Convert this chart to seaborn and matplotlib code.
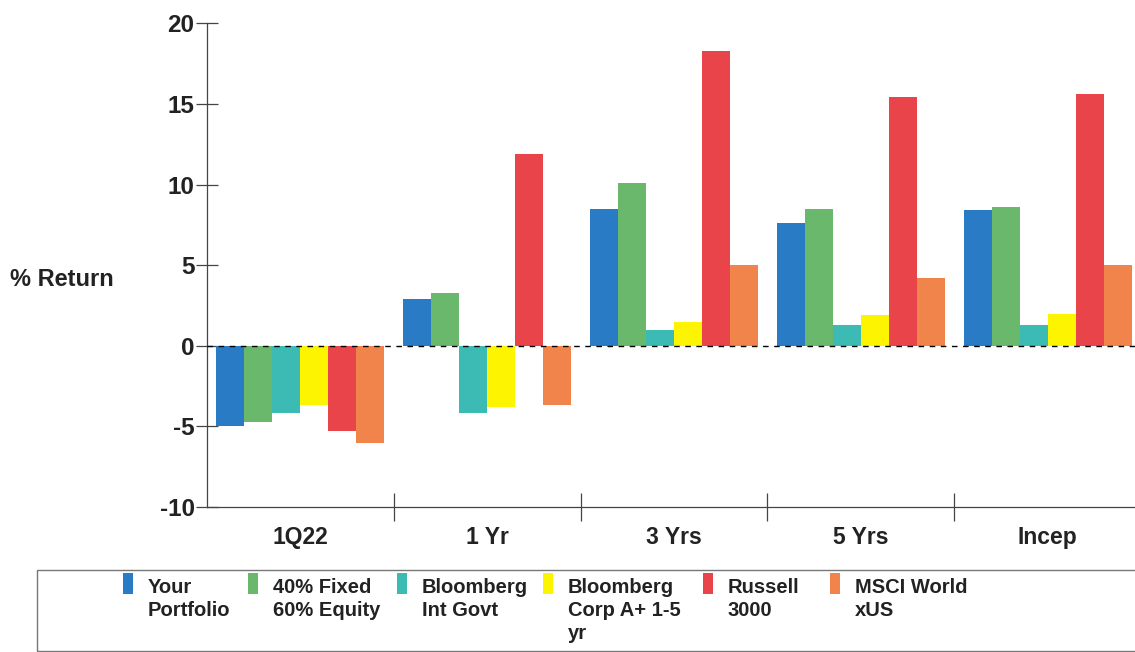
import matplotlib
matplotlib.use("Agg")
import matplotlib.pyplot as plt
from matplotlib.patches import Rectangle
import numpy as np
import pandas as pd
import seaborn as sns

# ---- data -------------------------------------------------------------
periods = ["1Q22", "1 Yr", "3 Yrs", "5 Yrs", "Incep"]
series_labels = [
    "Your\nPortfolio",
    "40% Fixed\n60% Equity",
    "Bloomberg\nInt Govt",
    "Bloomberg\nCorp A+ 1-5\nyr",
    "Russell\n3000",
    "MSCI World\nxUS",
]
your_portfolio = [-5.0, 2.9, 8.5, 7.6, 8.4]
fixed40_equity60 = [-4.7, 3.3, 10.1, 8.5, 8.6]
bbg_int_govt = [-4.2, -4.2, 1.0, 1.3, 1.3]
bbg_corp_a = [-3.7, -3.8, 1.5, 1.9, 2.0]
russell_3000 = [-5.3, 11.9, 18.3, 15.4, 15.6]
msci_world_xus = [-6.0, -3.7, 5.0, 4.2, 5.0]
y_ticks = [-10, -5, 0, 5, 10, 15, 20]

colors = ["#2a7bc6", "#6ab86b", "#3cbab4", "#fcf400", "#e8444a", "#f0844a"]

values = [your_portfolio, fixed40_equity60, bbg_int_govt,
          bbg_corp_a, russell_3000, msci_world_xus]
df = pd.DataFrame({
    "period": np.tile(periods, len(series_labels)),
    "series": np.repeat(series_labels, len(periods)),
    "ret": np.concatenate(values),
})

# ---- figure -----------------------------------------------------------
sns.set_theme(style="white")
plt.rcParams["font.family"] = ["Liberation Sans", "DejaVu Sans"]
plt.rcParams["font.weight"] = "bold"
text_color = "#222222"

W, H = 1135, 652
fig = plt.figure(figsize=(W / 100, H / 100), dpi=100)
fig.patch.set_facecolor("white")

# plot area: left spine at x=207 px, y=20 at 23 px, y=-10 at 507 px
ax = fig.add_axes([207 / W, 1 - 507 / H, (1141 - 207) / W, (507 - 23.3) / H])
ax.set_facecolor("white")

sns.barplot(data=df, x="period", y="ret", hue="series",
            order=periods, hue_order=series_labels, palette=colors,
            width=0.9, saturation=1, edgecolor="none", linewidth=0,
            legend=False, ax=ax)

ax.axhline(0, color="black", lw=1.0, ls=(0, (4, 4)), zorder=5)

ax.set_xlim(-0.5, len(periods) - 0.5)
ax.set_ylim(-10, 20)
ax.set_yticks(y_ticks)
ax.set_yticklabels([str(t) for t in y_ticks], fontsize=17.5,
                   color=text_color, fontweight="bold")
ax.tick_params(axis="y", which="major", left=True, direction="inout",
               length=16, width=0.9, color="#444444", pad=1)

# category labels centered in each group, separators between groups
ax.set_xticks(range(len(periods)))
ax.set_xticklabels(periods, fontsize=16.5, color=text_color,
                   fontweight="bold")
ax.tick_params(axis="x", which="major", bottom=False, length=0, pad=14)
ax.set_xticks(np.arange(0.5, len(periods), 1.0), minor=True)
ax.tick_params(axis="x", which="minor", bottom=True, direction="inout",
               length=20, width=0.9, color="#444444")

for side in ("top", "right"):
    ax.spines[side].set_visible(False)
for side in ("left", "bottom"):
    ax.spines[side].set_color("#444444")
    ax.spines[side].set_linewidth(0.9)

ax.set_xlabel("")
ax.set_ylabel("% Return", rotation=0, fontsize=17, color=text_color,
              fontweight="bold", ha="left", va="center")
ax.yaxis.set_label_coords(10 / W, 1 - 280 / H, transform=fig.transFigure)

# ---- legend box -------------------------------------------------------
fig.patches.append(Rectangle((37 / W, 1 - 651 / H), (1200 - 37) / W,
                             (651 - 570) / H, transform=fig.transFigure,
                             facecolor="none", edgecolor="#777777", lw=1.0))
legend_x = [123, 248, 397, 543, 703, 830]
for lx, lab, col in zip(legend_x, series_labels, colors):
    fig.patches.append(Rectangle((lx / W, 1 - 594 / H), 10 / W, 21 / H,
                                 transform=fig.transFigure,
                                 facecolor=col, edgecolor="none"))
    fig.text((lx + 25) / W, 1 - 578 / H, lab, ha="left", va="top",
             fontsize=14.5, fontweight="bold", color=text_color,
             linespacing=1.27)

fig.savefig("out.png", dpi=100, facecolor="white")
